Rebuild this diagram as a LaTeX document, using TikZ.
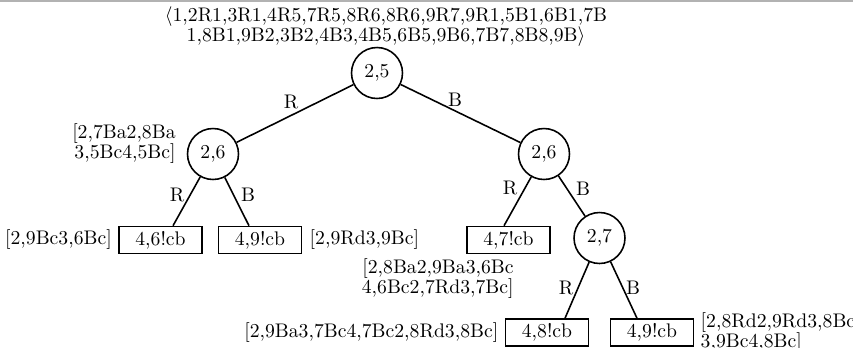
\documentclass[tikz,border=0pt]{standalone}
\usetikzlibrary{calc}
\begin{document}
\begin{tikzpicture}[x=0.508pt,y=-0.508pt,
  cnode/.style={circle,draw,line width=0.8pt,minimum size=25.9pt,inner sep=0pt},
  leaf/.style={rectangle,draw,line width=0.8pt,minimum width=42.2pt,minimum height=13.7pt,inner sep=0pt},
  info/.style={inner sep=0pt,font=\fontsize{10}{10.2}\selectfont},
  elab/.style={inner sep=0pt},
  edgeline/.style={line width=0.8pt}]
\useasboundingbox (0,0) rectangle (853,347);
\coordinate (tl) at (0,1);
\coordinate (tr) at (853,1);
\draw[black!30,line width=0.9pt] (tl) -- (tr);
% tree nodes
\node[cnode] (c25) at (377,73) {2,5};
\node[cnode] (c26l) at (213,154) {2,6};
\node[cnode] (c26r) at (544,154) {2,6};
\node[cnode] (c27) at (599.5,238) {2,7};
\node[leaf] (r46) at (160.5,240) {4,6!cb};
\node[leaf] (r49a) at (260,240) {4,9!cb};
\node[leaf] (r47) at (508.5,240) {4,7!cb};
\node[leaf] (r48) at (547,332.5) {4,8!cb};
\node[leaf] (r49b) at (652,332.5) {4,9!cb};
% info labels
\node[info,align=center] (i25) at (386,27) {$\langle$1,2R1,3R1,4R5,7R5,8R6,8R6,9R7,9R1,5B1,6B1,7B\\1,8B1,9B2,3B2,4B3,4B5,6B5,9B6,7B7,8B8,9B$\rangle$};
\node[info,align=right,anchor=east] (i26l) at (176,144) {[2,7Ba2,8Ba\\3,5Bc4,5Bc]};
\node[info,anchor=east] (i46) at ($(r46.west)+(-6,0)$) {[2,9Bc3,6Bc]};
\node[info,anchor=west] (i49a) at ($(r49a.east)+(7,0)$) {[2,9Rd3,9Bc]};
\node[info,align=right,anchor=north east] (i47) at (514,258) {[2,8Ba2,9Ba3,6Bc\\4,6Bc2,7Rd3,7Bc]};
\node[info,anchor=east] (i48) at ($(r48.west)+(-6,0)$) {[2,9Ba3,7Bc4,7Bc2,8Rd3,8Bc]};
\node[info,align=left,anchor=west] (i49b) at ($(r49b.east)+(6,0)$) {[2,8Rd2,9Rd3,8Bc\\3,9Bc4,8Bc]};
% edges
\draw[edgeline] (c25) -- (c26l);
\draw[edgeline] (c25) -- (c26r);
\draw[edgeline] (c26l) -- ($(r46.north)+(12.5,0)$);
\draw[edgeline] (c26l) -- ($(r49a.north)+(-11,0)$);
\draw[edgeline] (c26r) -- ($(r47.north)+(-4.5,0)$);
\draw[edgeline] (c26r) -- (c27);
\draw[edgeline] (c27) -- ($(r48.north)+(18,0)$);
\draw[edgeline] (c27) -- ($(r49b.north)+(-15,0)$);
% edge labels
\node[elab] (l1) at (291,102) {R};
\node[elab] (l2) at (455,100) {B};
\node[elab] (l3) at (177,195) {R};
\node[elab] (l4) at (248,195) {B};
\node[elab] (l5) at (510,188) {R};
\node[elab] (l6) at (583,189) {B};
\node[elab] (l7) at (566,288) {R};
\node[elab] (l8) at (633,288) {B};
\end{tikzpicture}
\end{document}
